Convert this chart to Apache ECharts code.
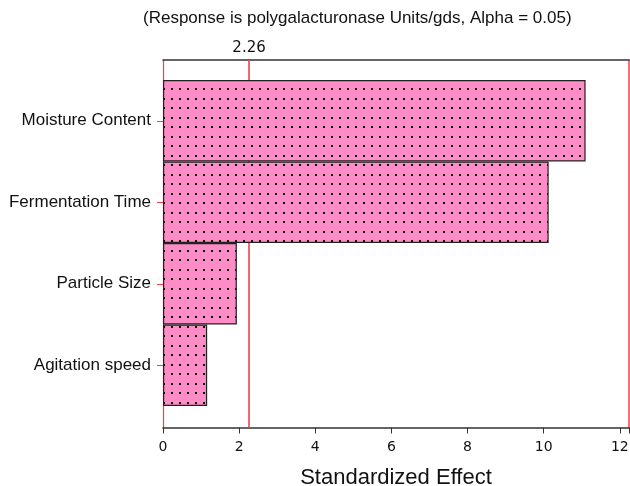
<!DOCTYPE html>
<html><head><meta charset="utf-8">
<script src="https://cdn.jsdelivr.net/npm/echarts@6/dist/echarts.min.js"></script>
<style>html,body{margin:0;padding:0;background:#fff}#c{width:630px;height:486px}</style>
</head><body><div id="c"></div>
<script>
const categories = ['Agitation speed', 'Particle Size', 'Fermentation Time', 'Moisture Content'];
const effects = [1.16, 1.94, 10.13, 11.10];
const criticalValue = 2.26;
const xTicks = [0, 2, 4, 6, 8, 10, 12];
const xMax = 12.24;

function makePattern() {
  const c = document.createElement('canvas');
  c.width = 8; c.height = 19;
  const g = c.getContext('2d');
  g.fillStyle = '#ff8cc6';
  g.fillRect(0, 0, 8, 19);
  g.fillStyle = '#000';
  g.fillRect(3, 3, 2, 2);
  g.fillRect(3, 12, 2, 2);
  return c;
}

const chart = echarts.init(document.getElementById('c'), null, {renderer: 'canvas'});
const L = 163, R = 1;
chart.setOption({
  animation: false,
  title: {
    text: '(Response is polygalacturonase Units/gds, Alpha = 0.05)',
    left: 138, top: 5,
    textStyle: {fontFamily: 'Liberation Sans, Arial', fontSize: 17, fontWeight: 'normal', color: '#111'}
  },
  grid: [
    {left: L, right: R, top: 60, bottom: 58.5, outerBoundsMode: 'none', containLabel: false},
    {left: L, right: R, top: 80, height: 326, outerBoundsMode: 'none', containLabel: false}
  ],
  xAxis: [
    {gridIndex: 0, type: 'value', min: 0, max: xMax, interval: 2,
     name: 'Standardized Effect', nameLocation: 'middle', nameGap: 39,
     nameTextStyle: {fontFamily: 'Liberation Sans, Arial', fontSize: 22, color: '#111'},
     axisLine: {onZero: false, lineStyle: {color: '#333', width: 1.5}},
     axisTick: {show: true, length: 6, lineStyle: {color: '#333'}},
     axisLabel: {fontFamily: 'DejaVu Sans', fontSize: 14, color: '#111', margin: 13,
                 formatter: v => xTicks.includes(v) ? String(v) : ''},
     splitLine: {show: false}},
    {gridIndex: 0, type: 'value', position: 'top', min: 0, max: xMax,
     axisLine: {show: true, onZero: false, lineStyle: {color: '#333', width: 1.5}},
     axisTick: {show: false}, axisLabel: {show: false}, splitLine: {show: false}},
    {gridIndex: 1, type: 'value', min: 0, max: xMax, show: false}
  ],
  yAxis: [
    {gridIndex: 0, type: 'value', min: 0, max: 1, position: 'left',
     axisLine: {show: true, onZero: false, lineStyle: {color: '#f0404c', width: 1.2}},
     axisTick: {show: false}, axisLabel: {show: false}, splitLine: {show: false}},
    {gridIndex: 0, type: 'value', min: 0, max: 1, position: 'right',
     axisLine: {show: true, onZero: false, lineStyle: {color: '#f0404c', width: 1.5}},
     axisTick: {show: false}, axisLabel: {show: false}, splitLine: {show: false}},
    {gridIndex: 1, type: 'category', data: categories,
     axisLine: {show: false},
     axisTick: {show: true, alignWithLabel: true, length: 6, lineStyle: {color: '#f0404c'}},
     axisLabel: {fontFamily: 'Liberation Sans, Arial', fontSize: 17, color: '#111', margin: 12}}
  ],
  series: [
    {type: 'bar', xAxisIndex: 2, yAxisIndex: 2, data: effects, z: 10,
     barWidth: '100%',
     itemStyle: {color: {image: makePattern(), repeat: 'repeat'}, borderColor: '#222', borderWidth: 1.2}},
    {type: 'scatter', xAxisIndex: 0, yAxisIndex: 0, data: [[criticalValue, 0.5]], symbolSize: 0,
     silent: true, z: 1,
     markLine: {symbol: 'none', silent: true, z: 1,
       lineStyle: {color: '#f0404c', width: 1.6, type: 'solid'},
       label: {show: true, position: 'end', formatter: String(criticalValue),
               fontFamily: 'DejaVu Sans', fontSize: 15, color: '#111', distance: 4},
       data: [{xAxis: criticalValue}]}}
  ]
});
</script></body></html>
